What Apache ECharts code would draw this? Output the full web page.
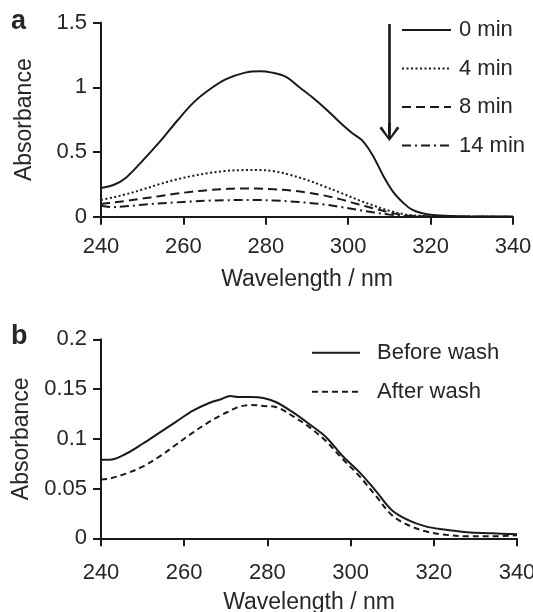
<!DOCTYPE html>
<html>
<head>
<meta charset="utf-8">
<script src="https://cdn.jsdelivr.net/npm/echarts@6/dist/echarts.min.js"></script>
<style>
  html, body { margin: 0; padding: 0; background: #fff; }
  #chart { width: 533px; height: 612px; }
</style>
</head>
<body>
<div id="chart"></div>
<script>
// panel a: absorbance vs wavelength over time
const wl0 = [240, 243, 246, 250, 254.5, 258.5, 262.5, 266.5, 270.5, 275, 278.5, 281.5, 285, 288, 291.5, 294.5, 298, 301, 303.5, 306, 308.5, 311, 313.5, 315.5, 318, 320.5, 325, 330, 340];
const abs0min = [0.222, 0.245, 0.3, 0.43, 0.588, 0.742, 0.884, 0.987, 1.065, 1.114, 1.124, 1.114, 1.08, 1.005, 0.918, 0.835, 0.729, 0.646, 0.586, 0.472, 0.317, 0.188, 0.103, 0.054, 0.026, 0.013, 0.005, 0.002, 0.0];

const wlA = [240, 243, 246, 250, 254, 258, 262, 266, 270, 274, 278, 282, 286, 290, 294, 298, 302, 306, 310, 314, 318, 322, 330, 340];
const abs4min = [0.129, 0.15, 0.173, 0.21, 0.25, 0.285, 0.314, 0.337, 0.353, 0.36, 0.361, 0.352, 0.322, 0.284, 0.237, 0.187, 0.135, 0.088, 0.046, 0.017, 0.006, 0.002, 0, 0];
const abs8min = [0.098, 0.11, 0.122, 0.14, 0.158, 0.177, 0.193, 0.206, 0.214, 0.219, 0.218, 0.212, 0.203, 0.187, 0.165, 0.136, 0.1, 0.066, 0.033, 0.01, 0.003, 0.001, 0, 0];
const abs14min = [0.085, 0.074, 0.08, 0.092, 0.103, 0.11, 0.118, 0.124, 0.127, 0.129, 0.129, 0.125, 0.118, 0.108, 0.095, 0.076, 0.055, 0.034, 0.016, 0.005, 0.001, 0, 0, 0];

// panel b: before / after wash
const wlB = [240, 242, 246, 250, 254, 258, 262, 266, 269, 271, 273, 276, 279, 282, 286, 290, 294, 298, 302, 306, 310, 314, 318, 322, 328, 334, 340];
const absBefore = [0.079, 0.079, 0.085, 0.095, 0.106, 0.117, 0.128, 0.136, 0.140, 0.143, 0.142, 0.142, 0.141, 0.137, 0.127, 0.115, 0.102, 0.083, 0.067, 0.048, 0.028, 0.018, 0.012, 0.009, 0.006, 0.005, 0.004];
const absAfter = [0.059, 0.060, 0.065, 0.072, 0.082, 0.094, 0.106, 0.117, 0.124, 0.128, 0.132, 0.134, 0.133, 0.132, 0.123, 0.112, 0.098, 0.080, 0.063, 0.043, 0.023, 0.013, 0.007, 0.004, 0.002, 0.002, 0.003];

const namesA = ['0 min', '4 min', '8 min', '14 min'];
const namesB = ['Before wash', 'After wash'];

// arrow in panel a (data coords)
const arrowX = 310;
const arrowFrom = 1.49;
const arrowTo = 0.655;

const ink = '#1a1a1a';
const txt = '#262626';
const font = "'Liberation Sans', Arial, sans-serif";

const pairs = (xs, ys) => xs.map((x, i) => [x, ys[i]]);

// open arrow head with stem, pointing up (echarts rotates it)
const chevron = 'path://M10,0 L20,13 L17.6,14.6 L11.4,5 L11.4,18 L8.6,18 L8.6,5 L2.4,14.6 L0,13 Z';

const chart = echarts.init(document.getElementById('chart'));

const xAxisBase = (gridIndex, labelMargin, nameGap) => ({
  type: 'value', gridIndex: gridIndex,
  min: 240, max: 340, interval: 20,
  name: 'Wavelength / nm', nameLocation: 'middle', nameGap: nameGap,
  nameTextStyle: {fontSize: 23, color: txt, fontFamily: font},
  axisLine: {show: true, onZero: false, lineStyle: {color: ink, width: 2}},
  axisTick: {show: true, length: 8, lineStyle: {color: ink, width: 2}},
  axisLabel: {fontSize: 22, color: txt, fontFamily: font, margin: labelMargin},
  splitLine: {show: false}
});

const yAxisBase = (gridIndex, max, interval) => ({
  type: 'value', gridIndex: gridIndex,
  min: 0, max: max, interval: interval,
  name: 'Absorbance', nameLocation: 'middle', nameGap: 65,
  nameTextStyle: {fontSize: 23, color: txt, fontFamily: font},
  axisLine: {show: true, lineStyle: {color: ink, width: 2}},
  axisTick: {show: true, length: 8, lineStyle: {color: ink, width: 2}},
  axisLabel: {fontSize: 22, color: txt, fontFamily: font, margin: 14},
  splitLine: {show: false}
});

const lineSeries = (name, data, dash, xi, yi) => ({
  name: name, type: 'line', xAxisIndex: xi, yAxisIndex: yi,
  data: data, smooth: 0.35, symbol: 'none', silent: true,
  lineStyle: {color: ink, width: 2, type: dash},
  itemStyle: {color: ink}
});

const s0 = lineSeries(namesA[0], pairs(wl0, abs0min), 'solid', 0, 0);
s0.markLine = {
  silent: true,
  symbol: ['none', chevron],
  symbolSize: [20, 18],
  label: {show: false},
  lineStyle: {color: ink, width: 2.6, type: 'solid'},
  data: [[{coord: [arrowX, arrowFrom]}, {coord: [arrowX, arrowTo]}]]
};

const legendText = (pad) => ({fontSize: 22, color: txt, fontFamily: font, padding: [0, 0, 0, pad]});

chart.setOption({
  animation: false,
  backgroundColor: '#fff',
  title: [
    {text: 'a', left: 6, top: 3, textStyle: {fontSize: 27, fontWeight: 'bold', color: txt, fontFamily: font}},
    {text: 'b', left: 6, top: 318, textStyle: {fontSize: 27, fontWeight: 'bold', color: txt, fontFamily: font}}
  ],
  grid: [
    {left: 101, right: 20, top: 22.7, bottom: 395.3, outerBoundsMode: 'none'},
    {left: 101, right: 16, top: 339.3, bottom: 73.7, outerBoundsMode: 'none'}
  ],
  xAxis: [xAxisBase(0, 19, 51), xAxisBase(1, 24, 53)],
  yAxis: [yAxisBase(0, 1.5, 0.5), yAxisBase(1, 0.2, 0.05)],
  legend: [
    {
      data: namesA, orient: 'vertical', left: 401, top: 19, padding: 0,
      itemWidth: 49, itemHeight: 14, itemGap: 16.5,
      selectedMode: false,
      itemStyle: {color: 'transparent', borderWidth: 0, opacity: 0},
      textStyle: legendText(3)
    },
    {
      data: namesB, orient: 'vertical', left: 311, top: 341.7, padding: 0,
      itemWidth: 48, itemHeight: 14, itemGap: 17,
      selectedMode: false,
      itemStyle: {color: 'transparent', borderWidth: 0, opacity: 0},
      textStyle: legendText(12)
    }
  ],
  series: [
    s0,
    lineSeries(namesA[1], pairs(wlA, abs4min), [2, 2.5], 0, 0),
    lineSeries(namesA[2], pairs(wlA, abs8min), [9, 5], 0, 0),
    lineSeries(namesA[3], pairs(wlA, abs14min), [9, 4, 2, 4], 0, 0),
    lineSeries(namesB[0], pairs(wlB, absBefore), 'solid', 1, 1),
    lineSeries(namesB[1], pairs(wlB, absAfter), [6, 4], 1, 1)
  ]
});
</script>
</body>
</html>
